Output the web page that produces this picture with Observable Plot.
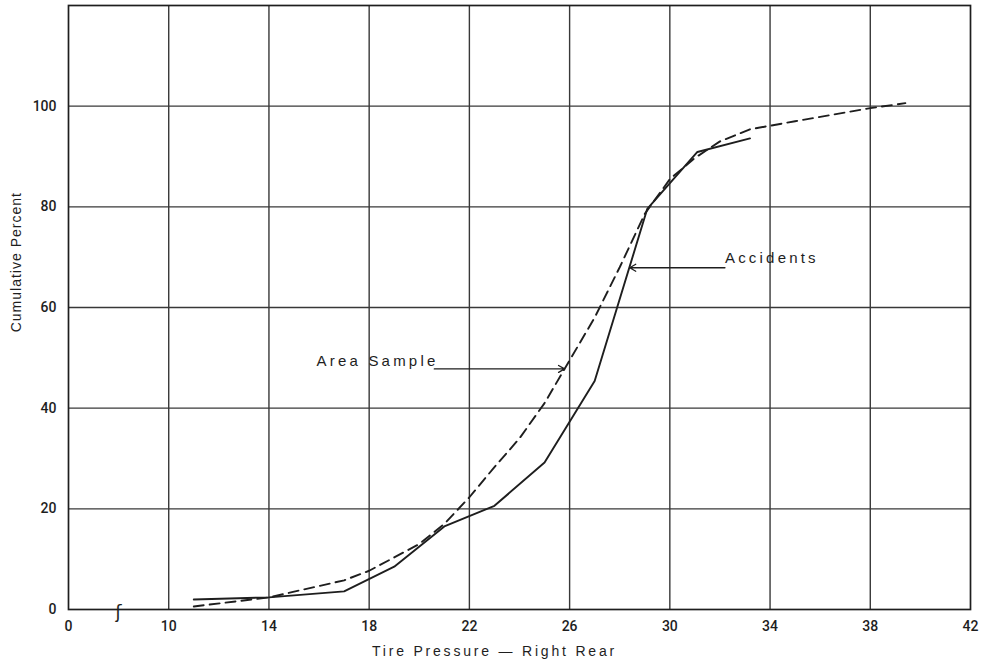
<!DOCTYPE html>
<html>
<head>
<meta charset="utf-8">
<script src="https://cdn.jsdelivr.net/npm/d3@7"></script>
<script src="https://cdn.jsdelivr.net/npm/@observablehq/plot@0.6"></script>
<style>
  html, body { margin: 0; padding: 0; background: #fff; }
</style>
</head>
<body>
<div id="chart"></div>
<script>
// ---- Data ----
// x positions are in psi; the axis is broken between 0 and 10, so the "0" label sits at 6.
const xTickValues = [6, 10, 14, 18, 22, 26, 30, 34, 38, 42];
const xTickLabels = ["0", "10", "14", "18", "22", "26", "30", "34", "38", "42"];
const yTickValues = [0, 20, 40, 60, 80, 100];
const xGrid = [10, 14, 18, 22, 26, 30, 34, 38];
const yGrid = [20, 40, 60, 80, 100];

const accidentsPressure = [11, 14, 17, 19, 21, 23, 25, 27, 29.1, 31.1, 33.2];
const accidentsPercent  = [2, 2.4, 3.6, 8.5, 16.5, 20.6, 29.2, 45.4, 79.6, 90.9, 93.6];

const areaPressure = [11, 14, 17, 18, 20, 21, 22, 23, 24, 25, 26, 27, 28, 29, 30, 31, 32, 33.2, 35, 38, 39.4];
const areaPercent  = [0.6, 2.4, 5.8, 7.7, 13, 17, 22.3, 28.3, 34, 41, 49.5, 58, 68, 78.6, 85.5, 89.7, 93, 95.4, 97, 99.6, 100.6];

const labelNames = ["Area Sample", "Accidents"];
const labelX = [15.9, 32.2];
const labelY = [48.4, 68.8];
const arrowFromX = [20.6, 32.2];
const arrowFromY = [47.8, 67.9];
const arrowToX = [25.8, 28.4];
const arrowToY = [47.8, 67.9];

const axisBreakX = [8];
const axisBreakY = [0];

const xTitle = "Tire Pressure — Right Rear";
const yTitle = "Cumulative Percent";
const xTitleAt = [23];     // psi position of the centre of the x title
const yTitleAt = [69];     // percent position of the centre of the y title

// ---- Build tables ----
const accidents = accidentsPressure.map((x, i) => ({x, y: accidentsPercent[i]}));
const area = areaPressure.map((x, i) => ({x, y: areaPercent[i]}));
const labels = labelNames.map((t, i) => ({t, x: labelX[i], y: labelY[i]}));
const arrows = arrowFromX.map((x1, i) => ({x1, y1: arrowFromY[i], x2: arrowToX[i], y2: arrowToY[i]}));
const breaks = axisBreakX.map((x, i) => ({x, y: axisBreakY[i]}));

const ink = "#1e1e1e";
const gridInk = "#383838";

const plot = Plot.plot({
  width: 992,
  height: 666,
  marginLeft: 68,
  marginRight: 22,
  marginTop: 5,
  marginBottom: 57,
  style: {fontFamily: "Roboto, DejaVu Sans, sans-serif", fontSize: "14px", color: ink, background: "#fff"},
  x: {
    domain: [6, 42],
    ticks: xTickValues,
    tickFormat: d => xTickLabels[xTickValues.indexOf(d)],
    tickSize: 0,
    tickPadding: 12,
    label: null
  },
  y: {
    domain: [0, 120],
    ticks: yTickValues,
    tickSize: 0,
    tickPadding: 12,
    label: null
  },
  marks: [
    Plot.ruleX(xGrid, {stroke: gridInk, strokeWidth: 1.4}),
    Plot.ruleY(yGrid, {stroke: gridInk, strokeWidth: 1.4}),
    Plot.frame({stroke: ink, strokeWidth: 1.7}),
    Plot.line(area, {x: "x", y: "y", stroke: ink, strokeWidth: 1.9, strokeDasharray: "10,6"}),
    Plot.line(accidents, {x: "x", y: "y", stroke: ink, strokeWidth: 1.9}),
    Plot.arrow(arrows, {x1: "x1", y1: "y1", x2: "x2", y2: "y2", stroke: ink, strokeWidth: 1.3, headLength: 8}),
    Plot.text(labels, {x: "x", y: "y", text: "t", textAnchor: "start", lineAnchor: "bottom",
      fontFamily: "Liberation Sans, Arial, sans-serif", fontSize: 15, fill: ink}),
    Plot.text(breaks, {x: "x", y: "y", dy: 3, text: () => "ʃ", fontSize: 18, fill: ink,
      fontFamily: "DejaVu Sans, sans-serif"}),
    Plot.text([xTitle], {x: xTitleAt, frameAnchor: "bottom", dy: 42, text: d => d,
      textAnchor: "middle", lineAnchor: "middle",
      fontFamily: "Liberation Sans, Arial, sans-serif", fontSize: 14, fill: ink}),
    Plot.text([yTitle], {y: yTitleAt, frameAnchor: "left", dx: -52, rotate: -90, text: d => d,
      textAnchor: "middle", lineAnchor: "middle",
      fontFamily: "Liberation Sans, Arial, sans-serif", fontSize: 14, fill: ink})
  ]
});

document.getElementById("chart").appendChild(plot);

// tick labels: larger, heavier lettering as in the reference
const tickTexts = new Set([...xTickLabels, ...yTickValues.map(String)]);
d3.select(plot).selectAll("text").each(function() {
  const t = this.textContent;
  if (tickTexts.has(t)) {
    this.style.fontSize = "14px";
    this.style.fontWeight = "500";
    this.style.fontFamily = "Roboto, DejaVu Sans, sans-serif";
  } else if (t === xTitle) this.setAttribute("letter-spacing", "2.8");
  else if (t === yTitle) this.setAttribute("letter-spacing", "1");
  else if (labelNames.includes(t)) this.setAttribute("letter-spacing", "3.2");
});
</script>
</body>
</html>
